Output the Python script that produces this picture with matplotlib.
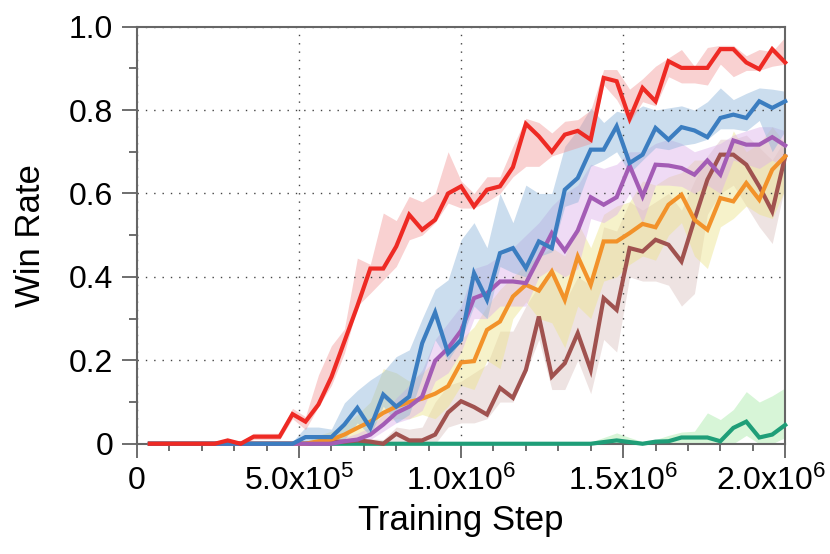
import numpy as np
import matplotlib
matplotlib.use("Agg")
import matplotlib.pyplot as plt
from matplotlib.ticker import MultipleLocator, FixedLocator
from matplotlib.transforms import ScaledTranslation

plt.rcParams["font.family"] = ["Liberation Sans", "DejaVu Sans"]
plt.rcParams["mathtext.default"] = "regular"

# training steps: 50 evaluation points, every 4e4 steps
steps = np.arange(1, 51) * 4e4

red = [0, 0, 0, 0, 0, 0, 0.008, 0, 0.017, 0.017,
       0.017, 0.071, 0.053, 0.094, 0.16, 0.245, 0.33, 0.42, 0.42, 0.473,
       0.549, 0.513, 0.537, 0.60, 0.617, 0.569, 0.609, 0.617, 0.663, 0.767,
       0.737, 0.70, 0.741, 0.75, 0.729, 0.877, 0.869, 0.779, 0.853, 0.821,
       0.917, 0.901, 0.901, 0.901, 0.946, 0.946, 0.914, 0.898, 0.946, 0.914]
red_hi = [0, 0, 0, 0, 0, 0, 0.012, 0.005, 0.025, 0.025,
          0.025, 0.085, 0.065, 0.165, 0.235, 0.275, 0.445, 0.43, 0.553, 0.535,
          0.593, 0.58, 0.60, 0.70, 0.63, 0.60, 0.64, 0.64, 0.713, 0.78,
          0.77, 0.745, 0.773, 0.777, 0.80, 0.897, 0.897, 0.85, 0.875, 0.905,
          0.925, 0.945, 0.905, 0.95, 0.955, 0.955, 0.93, 0.945, 0.94, 0.975]
red_lo = [0, 0, 0, 0, 0, 0, 0, 0, 0.01, 0.01,
          0.01, 0.06, 0.034, 0.089, 0.14, 0.217, 0.33, 0.361, 0.393, 0.425,
          0.489, 0.50, 0.53, 0.577, 0.565, 0.565, 0.58, 0.60, 0.64, 0.665,
          0.665, 0.69, 0.70, 0.71, 0.72, 0.86, 0.825, 0.77, 0.82, 0.81,
          0.88, 0.865, 0.865, 0.86, 0.91, 0.88, 0.895, 0.895, 0.905, 0.91]

blue = [0, 0, 0, 0, 0, 0, 0, 0, 0, 0,
        0, 0, 0.016, 0.016, 0.016, 0.046, 0.086, 0.038, 0.118, 0.089,
        0.113, 0.241, 0.315, 0.217, 0.249, 0.409, 0.345, 0.457, 0.469, 0.421,
        0.485, 0.469, 0.609, 0.637, 0.705, 0.705, 0.761, 0.673, 0.693, 0.757,
        0.729, 0.759, 0.751, 0.735, 0.781, 0.789, 0.781, 0.821, 0.805, 0.821]
blue_hi = [0, 0, 0, 0, 0, 0, 0, 0, 0, 0,
           0, 0.005, 0.04, 0.04, 0.035, 0.098, 0.128, 0.153, 0.173, 0.209,
           0.225, 0.30, 0.37, 0.393, 0.489, 0.53, 0.47, 0.60, 0.53, 0.62,
           0.60, 0.60, 0.713, 0.753, 0.805, 0.77, 0.797, 0.79, 0.81, 0.80,
           0.805, 0.81, 0.80, 0.82, 0.853, 0.825, 0.84, 0.853, 0.85, 0.845]
blue_lo = [0, 0, 0, 0, 0, 0, 0, 0, 0, 0,
           0, 0, 0, 0, 0.005, 0.01, 0.05, 0.02, 0.09, 0.05,
           0.07, 0.16, 0.249, 0.20, 0.249, 0.33, 0.30, 0.425, 0.41, 0.40,
           0.449, 0.46, 0.569, 0.58, 0.665, 0.68, 0.70, 0.649, 0.68, 0.71,
           0.705, 0.715, 0.72, 0.73, 0.755, 0.755, 0.75, 0.775, 0.70, 0.75]

purple = [0, 0, 0, 0, 0, 0, 0, 0, 0, 0,
          0, 0, 0, 0, 0, 0.006, 0.01, 0.022, 0.046, 0.074,
          0.089, 0.113, 0.199, 0.229, 0.271, 0.349, 0.361, 0.389, 0.389, 0.385,
          0.445, 0.505, 0.463, 0.511, 0.591, 0.573, 0.591, 0.667, 0.593, 0.669,
          0.667, 0.661, 0.645, 0.679, 0.645, 0.727, 0.717, 0.717, 0.735, 0.715]
purple_hi = [0, 0, 0, 0, 0, 0, 0, 0, 0, 0,
             0, 0, 0, 0, 0.005, 0.015, 0.025, 0.04, 0.07, 0.11,
             0.14, 0.177, 0.25, 0.29, 0.33, 0.42, 0.43, 0.45, 0.47, 0.50,
             0.53, 0.57, 0.60, 0.62, 0.67, 0.66, 0.67, 0.70, 0.70, 0.72,
             0.73, 0.72, 0.70, 0.71, 0.72, 0.74, 0.75, 0.76, 0.76, 0.75]
purple_lo = [0, 0, 0, 0, 0, 0, 0, 0, 0, 0,
             0, 0, 0, 0, 0, 0, 0, 0.01, 0.03, 0.05,
             0.06, 0.08, 0.15, 0.17, 0.22, 0.30, 0.30, 0.33, 0.33, 0.33,
             0.40, 0.42, 0.40, 0.42, 0.54, 0.53, 0.55, 0.60, 0.53, 0.62,
             0.62, 0.617, 0.60, 0.62, 0.60, 0.68, 0.67, 0.66, 0.68, 0.66]

orange = [0, 0, 0, 0, 0, 0, 0, 0, 0, 0,
          0, 0, 0, 0.006, 0.01, 0.022, 0.038, 0.053, 0.074, 0.089,
          0.10, 0.108, 0.12, 0.138, 0.195, 0.198, 0.273, 0.293, 0.353, 0.381,
          0.367, 0.413, 0.345, 0.449, 0.381, 0.485, 0.485, 0.505, 0.527, 0.519,
          0.573, 0.597, 0.537, 0.513, 0.589, 0.581, 0.625, 0.585, 0.657, 0.689]
orange_hi = [0, 0, 0, 0, 0, 0, 0, 0, 0, 0,
             0, 0, 0.005, 0.02, 0.03, 0.045, 0.07, 0.10, 0.18, 0.17,
             0.15, 0.17, 0.20, 0.22, 0.25, 0.28, 0.33, 0.37, 0.40, 0.43,
             0.45, 0.47, 0.45, 0.53, 0.47, 0.55, 0.57, 0.58, 0.63, 0.62,
             0.64, 0.65, 0.68, 0.68, 0.66, 0.75, 0.70, 0.72, 0.76, 0.72]
orange_lo = [0, 0, 0, 0, 0, 0, 0, 0, 0, 0,
             0, 0, 0, 0, 0, 0.005, 0.015, 0.03, 0.05, 0.06,
             0.06, 0.07, 0.06, 0.09, 0.14, 0.13, 0.20, 0.18, 0.30, 0.34,
             0.30, 0.29, 0.23, 0.33, 0.30, 0.39, 0.40, 0.43, 0.45, 0.44,
             0.50, 0.53, 0.45, 0.42, 0.52, 0.54, 0.57, 0.55, 0.54, 0.61]

brown = [0, 0, 0, 0, 0, 0, 0, 0, 0, 0,
         0, 0, 0, 0.003, 0.005, 0.005, 0.008, 0.005, 0, 0.024,
         0.008, 0.008, 0.022, 0.075, 0.102, 0.088, 0.07, 0.134, 0.11, 0.177,
         0.305, 0.161, 0.193, 0.265, 0.177, 0.349, 0.321, 0.469, 0.461, 0.489,
         0.477, 0.437, 0.537, 0.633, 0.693, 0.693, 0.669, 0.617, 0.557, 0.689]
brown_hi = [0, 0, 0, 0, 0, 0, 0, 0, 0, 0,
            0, 0, 0, 0.008, 0.01, 0.012, 0.015, 0.012, 0.01, 0.04,
            0.035, 0.04, 0.10, 0.14, 0.15, 0.17, 0.19, 0.27, 0.27, 0.33,
            0.38, 0.42, 0.34, 0.40, 0.38, 0.52, 0.51, 0.58, 0.56, 0.58,
            0.60, 0.56, 0.63, 0.69, 0.73, 0.73, 0.74, 0.71, 0.68, 0.73]
brown_lo = [0, 0, 0, 0, 0, 0, 0, 0, 0, 0,
            0, 0, 0, 0, 0, 0, 0, 0, 0, 0.005,
            0, 0, 0, 0.04, 0.05, 0.05, 0.06, 0.10, 0.10, 0.17,
            0.25, 0.13, 0.13, 0.20, 0.12, 0.25, 0.22, 0.40, 0.39, 0.39,
            0.38, 0.33, 0.36, 0.55, 0.60, 0.62, 0.57, 0.52, 0.48, 0.62]

green = [0] * 35 + [0.004, 0.008, 0.004, 0, 0.005,
                    0.006, 0.015, 0.015, 0.015, 0.006, 0.038, 0.053, 0.015, 0.022, 0.045]
green_hi = [0] * 34 + [0.004, 0.015, 0.026, 0.015, 0.005, 0.01,
                       0.02, 0.028, 0.03, 0.074, 0.058, 0.082, 0.125, 0.10, 0.115, 0.134]
green_lo = [0] * 46 + [0.02, 0, 0, 0.015]

x_ticks = [0, 5e5, 1e6, 1.5e6, 2e6]
x_labels = ["0", "5.0x10$^{5}$", "1.0x10$^{6}$", "1.5x10$^{6}$", "2.0x10$^{6}$"]
y_ticks = [0, 0.2, 0.4, 0.6, 0.8, 1.0]
y_labels = ["0", "0.2", "0.4", "0.6", "0.8", "1.0"]

# (line, upper, lower, line colour, band colour, band alpha)
series = [
    (green, green_hi, green_lo, "#1f9e78", "#9be89b", 0.4),
    (brown, brown_hi, brown_lo, "#a0524f", "#c9a3a0", 0.3),
    (orange, orange_hi, orange_lo, "#f2922a", "#ece48a", 0.45),
    (purple, purple_hi, purple_lo, "#a35cb5", "#dcb0ea", 0.45),
    (blue, blue_hi, blue_lo, "#3b7dc0", "#8db4da", 0.45),
    (red, red_hi, red_lo, "#ee2a24", "#f08c8c", 0.4),
]

fig = plt.figure(figsize=(8.3, 5.54), dpi=100)
ax = fig.add_axes([0.165, 0.199, 0.781, 0.753])

for y, hi, lo, c, fc, a in series:
    ax.fill_between(steps, lo, hi, color=fc, alpha=a, linewidth=0, zorder=1)
for y, hi, lo, c, fc, a in series:
    ax.plot(steps, y, color=c, linewidth=3.0, zorder=3, clip_on=False,
            solid_joinstyle="miter")

ax.set_xlim(0, 2e6)
ax.set_ylim(0, 1.0)

ax.xaxis.set_major_locator(FixedLocator(x_ticks))
ax.xaxis.set_minor_locator(MultipleLocator(1e5))
ax.set_xticklabels(x_labels)
ax.yaxis.set_major_locator(FixedLocator(y_ticks))
ax.yaxis.set_minor_locator(MultipleLocator(0.1))
ax.set_yticklabels(y_labels)

ax.tick_params(axis="both", which="both", labelsize=23, color="#555555", width=1.2)
ax.tick_params(axis="x", which="major", length=10, pad=6)
ax.tick_params(axis="x", which="minor", length=5)
ax.tick_params(axis="y", which="major", length=11, pad=6)
ax.tick_params(axis="y", which="minor", length=6)

# last x label sits against the figure edge in the original
last = ax.get_xticklabels()[-1]
last.set_transform(last.get_transform() + ScaledTranslation(-14 / 100, 0, fig.dpi_scale_trans))

ax.grid(True, which="major", color="#444444", linestyle=(0, (1, 5)), linewidth=1.0)
for s in ax.spines.values():
    s.set_color("#666666")
    s.set_linewidth(1.5)

ax.set_xlabel("Training Step", fontsize=25, labelpad=5)
ax.set_ylabel("Win Rate", fontsize=25, labelpad=16)

fig.savefig("out.png", dpi=100)
